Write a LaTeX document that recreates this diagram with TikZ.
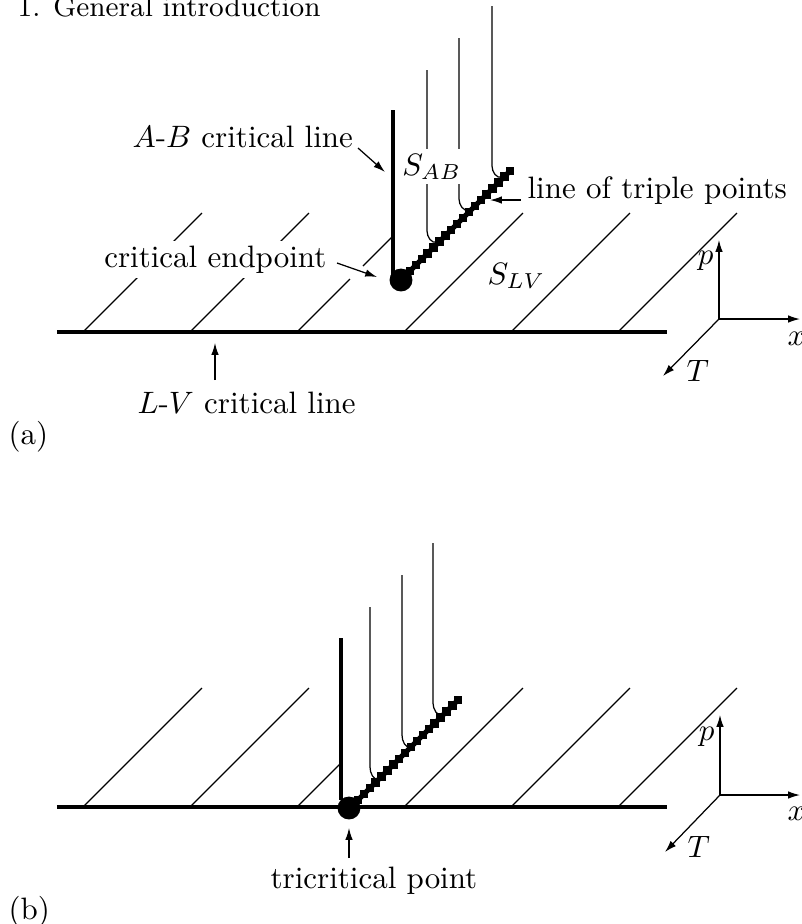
\documentclass[tikz,border=0pt]{standalone}
\usetikzlibrary{arrows.meta}
\begin{document}
\begin{tikzpicture}[x=0.323pt, y=-0.323pt,
    lbl/.style={inner sep=0pt, anchor=base west},
    arr/.style={-{Latex[length=3.8pt,width=2.4pt]}},
    critline/.style={line width=1.45pt},
    sheet/.style={line width=0.4pt}]
    \useasboundingbox (0,0) rectangle (802,924);
    \node[lbl, font=\fontsize{9.2}{11}\selectfont] (title) at (17,16) {1. General introduction};
    % (a) L-V surface
    \foreach \s in {83,190,404,511,618}
        \draw (\s,332) -- ({\s+119},213);
    \draw (297,332) -- (350,279);
    \draw (363,266) -- (393,236);
    \draw[critline] (57,332) -- (667,332);
    % (a) A-B critical line and critical endpoint
    \draw[line width=1.3pt] (393,110) -- (393,276);
    \fill (401,280) circle[radius=3.7pt];
    % (a) line of triple points
    \draw[line width=1.7pt] (408,273) -- (508,173);
    \foreach \i in {0,...,17}
        \fill ({410+5.9*\i-4.2},{271-5.9*\i-4.2}) rectangle ++(8.4,8.4);
    % (a) A-B sheets
    \draw[sheet] (427,70) -- (427,231) to[out=-90,in=-160] (437,242);
    \draw[sheet] (459,38) -- (459,199) to[out=-90,in=-160] (469,210);
    \draw[sheet] (492,6) -- (492,166) to[out=-90,in=-160] (502,177);
    % (a) labels
    \node[lbl] (ablbl) at (132,147) {$A$-$B$ critical line};
    \node[lbl, fill=white, inner sep=1.5pt] (sab) at (397,175) {$S_{AB}$};
    \node[lbl] (tplbl) at (527,198) {line of triple points};
    \node[lbl, fill=white, inner sep=1.5pt] (celbl) at (99,267) {critical endpoint};
    \node[lbl] (slv) at (487,284) {$S_{LV}$};
    \node[lbl] (lvlbl) at (137,413) {$L$-$V$ critical line};
    \node[lbl] (pa) at (8,444) {(a)};
    \coordinate (abT) at (358,148);
    \coordinate (abH) at (385,172);
    \coordinate (tpT) at (521,200);
    \coordinate (tpH) at (490,200);
    \coordinate (ceT) at (337,263);
    \coordinate (ceH) at (377,277);
    \coordinate (lvT) at (215,380);
    \coordinate (lvH) at (215,343);
    \draw[arr] (abT) -- (abH);
    \draw[arr] (tpT) -- (tpH);
    \draw[arr] (ceT) -- (ceH);
    \draw[arr] (lvT) -- (lvH);
    % (a) axes
    \coordinate (oa) at (719,319);
    \coordinate (pa1) at (719,240);
    \coordinate (xa1) at (800,319);
    \coordinate (ta1) at (663,376);
    \draw[arr] (oa) -- (pa1);
    \draw[arr] (oa) -- (xa1);
    \draw[arr] (oa) -- (ta1);
    \node[inner sep=0pt, anchor=base east] (pla) at (714,264) {$p$};
    \node[lbl] (xla) at (787,345) {$x$};
    \node[lbl] (tla) at (686,381) {$T$};
    % (b) L-V surface
    \foreach \s in {83,190,404,511,618}
        \draw (\s,807) -- ({\s+119},688);
    \draw (297,807) -- (341,763);
    \draw[critline] (57,807) -- (667,807);
    % (b) A-B critical line and tricritical point
    \draw[line width=1.3pt] (341,638) -- (341,800);
    \fill (349,808) circle[radius=3.7pt];
    % (b) line of triple points
    \draw[line width=1.7pt] (356,802) -- (456,702);
    \foreach \i in {0,...,17}
        \fill ({358+5.9*\i-4.2},{800-5.9*\i-4.2}) rectangle ++(8.4,8.4);
    % (b) A-B sheets
    \draw[sheet] (370,607) -- (370,767) to[out=-90,in=-160] (379,779);
    \draw[sheet] (402,575) -- (402,735) to[out=-90,in=-160] (411,747);
    \draw[sheet] (433,543) -- (433,703) to[out=-90,in=-160] (443,715);
    % (b) labels
    \node[lbl] (tclbl) at (270,888) {tricritical point};
    \node[lbl] (pb) at (8,919) {(b)};
    \coordinate (tcT) at (349,858);
    \coordinate (tcH) at (349,828);
    \draw[arr] (tcT) -- (tcH);
    % (b) axes
    \coordinate (ob) at (720,795);
    \coordinate (pb1) at (720,715);
    \coordinate (xb1) at (800,795);
    \coordinate (tb1) at (665,852);
    \draw[arr] (ob) -- (pb1);
    \draw[arr] (ob) -- (xb1);
    \draw[arr] (ob) -- (tb1);
    \node[inner sep=0pt, anchor=base east] (plb) at (715,740) {$p$};
    \node[lbl] (xlb) at (787,820) {$x$};
    \node[lbl] (tlb) at (687,857) {$T$};
\end{tikzpicture}
\end{document}
